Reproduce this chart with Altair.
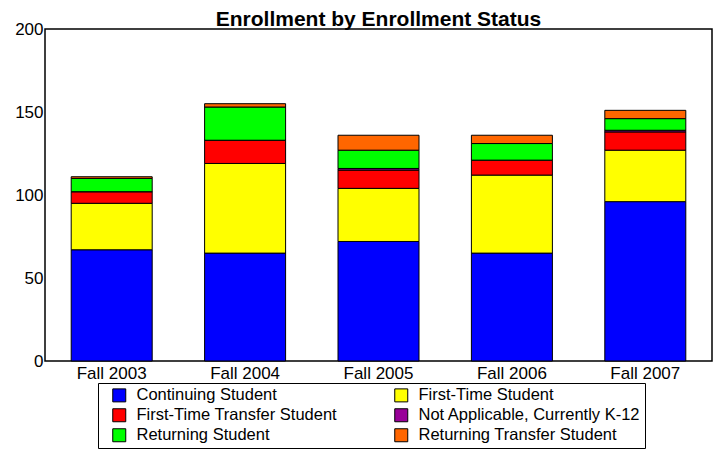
import altair as alt
import pandas as pd

years = ["Fall 2003", "Fall 2004", "Fall 2005", "Fall 2006", "Fall 2007"]
statuses = [
    "Continuing Student",
    "First-Time Student",
    "First-Time Transfer Student",
    "Not Applicable, Currently K-12",
    "Returning Student",
    "Returning Transfer Student",
]
colors = ["#0000FF", "#FFFF00", "#FF0000", "#990099", "#00FF00", "#FF6600"]

continuing = [67, 65, 72, 65, 96]
first_time = [28, 54, 32, 47, 31]
first_time_transfer = [7, 14, 11, 9, 11]
not_applicable = [0, 0, 1, 0, 1]
returning = [8, 20, 11, 10, 7]
returning_transfer = [1, 2, 9, 5, 5]
y_ticks = [0, 50, 100, 150, 200]

# legend fills column by column; this order shows the entries row by row
legend_order = [0, 2, 4, 1, 3, 5]

series = [continuing, first_time, first_time_transfer, not_applicable, returning, returning_transfer]
rows = []
for i, (s, vals) in enumerate(zip(statuses, series)):
    for term, v in zip(years, vals):
        rows.append({"term": term, "status": s, "count": v, "order": i})
df = pd.DataFrame(rows)

legend_domain = [statuses[i] for i in legend_order]
legend_range = [colors[i] for i in legend_order]

FONT = "Liberation Sans"

chart = alt.Chart(df).mark_bar(size=81, stroke="black", strokeWidth=1).encode(
    x=alt.X("term:N", sort=years, title=None,
            axis=alt.Axis(labelAngle=0, ticks=False, domain=False, labelFontSize=17,
                          labelPadding=4, labelColor="black", labelFont=FONT)),
    y=alt.Y("count:Q", stack="zero", title=None,
            scale=alt.Scale(domain=[0, 200], nice=False),
            axis=alt.Axis(values=y_ticks, ticks=False, domain=False, grid=False,
                          labelFontSize=17, labelPadding=2, labelColor="black", labelFont=FONT)),
    color=alt.Color("status:N", scale=alt.Scale(domain=legend_domain, range=legend_range),
                    legend=alt.Legend(orient="none", legendX=53, legendY=354,
                                      direction="vertical", columns=2, columnPadding=47,
                                      rowPadding=2, symbolType="square", symbolSize=169,
                                      symbolStrokeColor="black", symbolStrokeWidth=1,
                                      symbolOpacity=1, labelFontSize=16.5, labelFont=FONT,
                                      labelColor="black", labelOffset=9, strokeColor="black",
                                      padding=4, symbolOffset=9, labelLimit=400, title=None)),
    order=alt.Order("order:Q", sort="ascending"),
).properties(
    width=667, height=332,
    title=alt.TitleParams("Enrollment by Enrollment Status", fontSize=21, font=FONT,
                          fontWeight="bold", anchor="middle", offset=-10, color="black",
                          frame="group"),
    autosize=alt.AutoSizeParams(type="none"),
    padding={"left": 37, "top": 21, "right": 5, "bottom": 88},
).configure_view(stroke="black", strokeWidth=1.5)

chart.save("out.html", embed_options={"renderer": "svg", "actions": False})
